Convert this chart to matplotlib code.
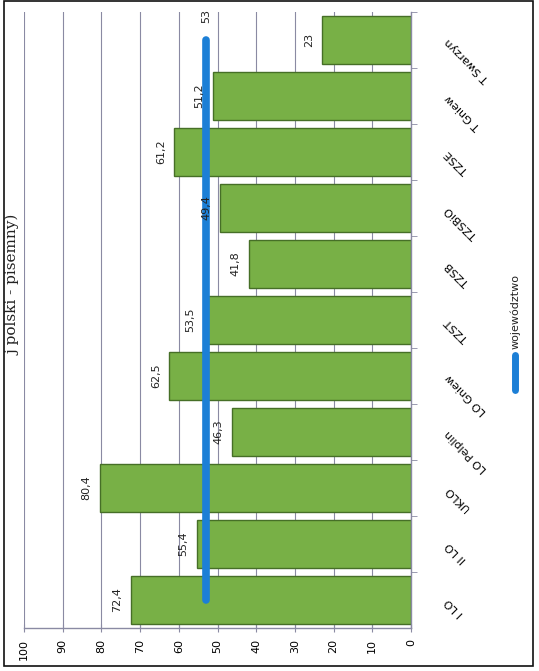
"""Rotated bar chart: wyniki szkol vs wojewodztwo (j. polski - pisemny)."""

import matplotlib
matplotlib.use("Agg")
import matplotlib.pyplot as plt
from matplotlib.lines import Line2D
from matplotlib.patches import Rectangle

schools = ["I LO", "II LO", "UKLO", "LO Pelplin", "LO Gniew", "TZST",
           "TZSB", "TZSBiO", "TZSE", "T Gniew", "T Swarzyn"]
scores = [72.4, 55.4, 80.4, 46.3, 62.5, 53.5, 41.8, 49.4, 61.2, 51.2, 23]
voivodeship = [53] * len(schools)
value_ticks = [0, 10, 20, 30, 40, 50, 60, 70, 80, 90, 100]

BAR_GREEN = "#78b046"
BAR_EDGE = "#466f27"
LINE_BLUE = "#1c7fd6"
GRID = "#8a8aa3"


def fmt(v):
    s = f"{v:.1f}".replace(".", ",")
    return s[:-2] if s.endswith(",0") else s


def main() -> None:
    fig = plt.figure(figsize=(5.39, 6.71), dpi=100)
    ax = fig.add_axes([24 / 539, 43 / 671, 387 / 539, 616 / 671])

    pos = list(range(len(schools)))
    ax.barh(pos, scores, height=0.86, color=BAR_GREEN, edgecolor=BAR_EDGE,
            linewidth=1.0, zorder=2)
    ax.plot(voivodeship, pos, color=LINE_BLUE, lw=5.5,
            solid_capstyle="round", zorder=3)

    for i, v in enumerate(scores):
        ax.annotate(fmt(v), xy=(v, i), xytext=(-6, 0), textcoords="offset points",
                    ha="right", va="center", rotation=90, fontsize=8,
                    color="#222222", zorder=4)
    ax.annotate(fmt(voivodeship[-1]), xy=(voivodeship[-1], pos[-1]),
                xytext=(0, 12), textcoords="offset points", ha="center",
                va="bottom", rotation=90, fontsize=8, color="#222222", zorder=4)

    ax.set_xlim(100, 0)
    ax.set_ylim(-0.5, len(schools) - 0.5)
    ax.set_xticks(value_ticks)
    ax.set_xticklabels([str(t) for t in value_ticks], rotation=90, fontsize=8)
    ax.tick_params(axis="x", direction="inout", length=6, color=GRID, pad=5)
    ax.grid(axis="x", color=GRID, lw=0.8, zorder=0)
    ax.set_axisbelow(True)

    ax.yaxis.tick_right()
    ax.set_yticks(pos)
    ax.set_yticklabels(schools, rotation=135, ha="right", va="center",
                       rotation_mode="anchor", fontsize=8)
    ax.tick_params(axis="y", which="major", length=0, pad=26)
    ax.set_yticks([p + 0.5 for p in pos], minor=True)
    ax.tick_params(axis="y", which="minor", length=4, direction="out", color=GRID)

    for side in ("top", "left"):
        ax.spines[side].set_visible(False)
    for side in ("bottom", "right"):
        ax.spines[side].set_color(GRID)
        ax.spines[side].set_linewidth(1.0)

    # legend drawn rotated like the rest of the page
    fig.add_artist(Line2D([515 / 539, 515 / 539], [281 / 671, 316 / 671],
                          color=LINE_BLUE, lw=5, solid_capstyle="round"))
    fig.text(515 / 539, 322 / 671, "województwo", rotation=90, ha="center",
             va="bottom", fontsize=8, color="#222222")

    # page frame and title along the left edge
    fig.add_artist(Rectangle((4 / 539, 5 / 671), 529 / 539, 665 / 671,
                             transform=fig.transFigure, fill=False,
                             edgecolor="#111111", lw=1.2))
    fig.text(13 / 539, (671 - 285) / 671, "j polski - pisemny)", rotation=90,
             ha="center", va="center", fontsize=11, family="DejaVu Serif",
             color="#222222")

    fig.savefig("out.png", dpi=100)


if __name__ == "__main__":
    main()
